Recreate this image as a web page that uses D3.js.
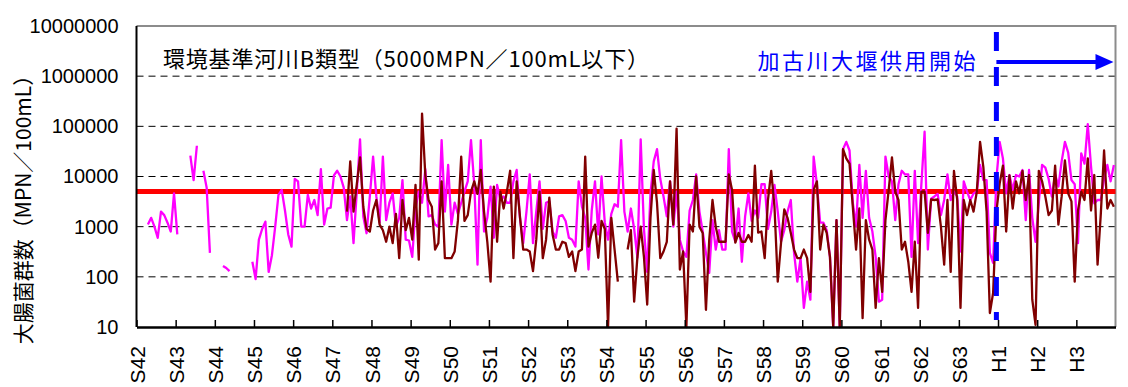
<!DOCTYPE html>
<html>
<head>
<meta charset="utf-8">
<script src="https://cdn.jsdelivr.net/npm/d3@7"></script>
<style>
body { margin: 0; background: #fff; }
</style>
</head>
<body>
<script>
//year labels (one per 12 months, S42 = 1967)
var yearLabels = ["S42","S43","S44","S45","S46","S47","S48","S49","S50","S51","S52","S53",
    "S54","S55","S56","S57","S58","S59","S60","S61","S62","S63","H1","H2","H3"];

//y axis ticks (log)
var yTicks = [10, 100, 1000, 10000, 100000, 1000000, 10000000];

//environmental standard (B class)
var standardValue = 5000;

//month index where the weir started operating
var weirStartMonth = 263.5;

//monthly values, magenta station (null = no data)
var stationA = [
    null,null,null,1100,1500,1000,600,2000,1700,1200,800,4600,
    700,null,null,null,26000,8500,41000,null,13000,6000,300,null,
    null,null,165,150,130,null,null,null,null,null,null,200,
    90,550,900,1260,125,270,1000,4300,5400,2100,700,400,
    9000,8000,1000,1000,4300,2300,3400,1700,14000,1100,2300,2400,
    10500,13000,10000,6000,1350,4000,470,5000,55000,1600,740,4000,
    25000,4000,1200,25000,1350,3000,4600,1000,1500,8500,550,530,
    250,2300,5000,3000,14000,1600,1700,1100,1000,53000,2000,17000,
    1100,3000,1800,3000,5000,8000,53000,7000,175,53000,800,1500,
    6300,600,6800,3500,4000,3000,3000,8000,13500,1500,470,2000,
    11000,470,2000,8000,900,3000,3200,800,600,1600,1700,1300,
    600,550,400,8000,2500,1500,140,2100,8000,700,10000,1200,
    550,1800,2800,2500,53000,2000,800,2300,900,240,55000,900,
    125,4600,20000,35000,9000,4000,1600,8000,1000,5000,550,320,
    250,2100,3400,11000,2000,800,300,120,1350,350,850,350,
    350,35000,800,500,2300,200,1600,4600,1300,2100,1500,7000,
    7000,900,2000,6800,2000,500,850,2000,3400,300,80,235,
    24,80,35,25000,7000,1200,1200,850,250,10,1350,10,
    35000,49000,33000,3000,1000,17000,1500,13000,1500,800,250,32,
    35,25000,10000,8000,1350,7000,13000,11000,11000,250,13000,470,
    6800,78000,350,3600,4000,4500,1700,3400,11000,3400,5000,4000,
    320,8000,5000,3400,4600,5000,17000,8500,8500,300,190,9000,
    49000,23000,4600,10700,5400,10700,10000,13500,1350,13500,1500,500,
    3000,17000,15000,9000,4000,11000,6300,20000,49000,30000,8500,7000,
    470,29000,18000,110000,16000,2900,3400,3400,9000,17000,8000,17000
];

//monthly values, dark red station (null = no data)
var stationB = [
    null,null,null,null,null,null,null,null,null,null,null,null,
    null,null,null,null,null,null,null,null,null,null,null,null,
    null,null,null,null,null,null,null,null,null,null,null,null,
    null,null,null,null,null,null,null,null,null,null,null,null,
    null,null,null,null,null,null,null,null,null,null,null,null,
    null,null,null,null,2000,20000,2000,7000,24000,2500,900,800,
    2100,3400,1100,850,500,1000,470,1800,235,3400,850,1500,
    550,6800,220,180000,10700,3400,2500,350,470,8000,235,235,
    235,320,1350,25000,1300,1700,5000,8000,4500,13500,2000,500,
    80,6300,500,5000,2300,5000,13000,235,8000,1600,350,350,
    320,130,550,5000,235,550,3800,700,350,350,500,470,
    250,320,130,320,350,25000,400,750,1100,240,1300,900,
    10,1500,350,80,null,null,350,850,32,250,1000,250,
    28,1500,13500,3000,235,320,500,8000,1100,90000,140,320,
    10,1100,800,10000,1000,750,22,540,3400,1000,500,500,
    500,11000,5400,480,750,500,500,680,500,16500,760,800,
    235,3400,13000,2500,80,470,2200,1500,750,350,235,235,
    350,235,50,5400,8000,350,1100,750,250,10,1350,10,
    35000,23000,18000,2500,350,2300,15,1350,550,350,24,235,
    50,1350,5400,24000,5000,3400,350,500,200,50,500,24,
    5000,5000,750,3500,3400,3500,1000,175,3400,125,13000,3400,
    24,3400,1700,3400,2000,5000,49000,15500,2000,19,48,2000,
    7200,16500,800,10500,2300,8000,4600,13000,3400,10700,35,11,
    13000,8000,4000,1700,2100,16500,1100,4000,21000,4600,3200,80,
    2100,5000,3400,23000,2100,10700,175,1800,33000,2300,3400,2500
];

window.onload = function(){

    //SVG dimensions
    var w = 1128,
        h = 387;

    //plot area
    var left = 136.5,
        right = 1115.5,
        top = 26,
        bottom = 327;

    var nMonths = yearLabels.length * 12;

    var svg = d3.select("body")
        .append("svg")
        .attr("width", w)
        .attr("height", h)
        .style("display", "block");

    //x scale: month index -> pixel
    var x = d3.scaleLinear()
        .domain([0, nMonths])
        .range([left, right]);

    //y scale (log)
    var y = d3.scaleLog()
        .domain([10, 10000000])
        .range([bottom, top]);

    //dashed grid lines
    svg.append("g")
        .selectAll("line")
        .data(yTicks.slice(1, -1))
        .enter()
        .append("line")
        .attr("x1", left)
        .attr("x2", right)
        .attr("y1", function(d){ return y(d); })
        .attr("y2", function(d){ return y(d); })
        .style("stroke", "#000")
        .style("stroke-width", 1)
        .style("stroke-dasharray", "7,5");

    //top and right border (gray)
    svg.append("path")
        .attr("d", "M" + left + "," + top + "H" + right + "V" + bottom)
        .style("fill", "none")
        .style("stroke", "#8c8c8c")
        .style("stroke-width", 2);

    //y axis labels
    var yAxis = d3.axisLeft(y)
        .tickValues(yTicks)
        .tickSize(0)
        .tickPadding(18)
        .tickFormat(d3.format("d"));

    var yAxisG = svg.append("g")
        .attr("transform", "translate(" + left + ",0)")
        .call(yAxis);
    yAxisG.select(".domain").remove();
    yAxisG.selectAll("text")
        .style("font-family", "'Liberation Sans', Arial, sans-serif")
        .style("font-size", "20px")
        .style("fill", "#000");

    //standard line
    svg.append("line")
        .attr("x1", left)
        .attr("x2", right)
        .attr("y1", y(standardValue))
        .attr("y2", y(standardValue))
        .style("stroke", "#ff0000")
        .style("stroke-width", 5);

    //line generator
    var line = d3.line()
        .defined(function(d){ return d != null; })
        .x(function(d, i){ return x(i + 0.5); })
        .y(function(d){ return y(d); });

    svg.append("path")
        .datum(stationA)
        .attr("d", line)
        .style("fill", "none")
        .style("stroke", "#ff00ff")
        .style("stroke-width", 2.3)
        .style("stroke-linejoin", "round");

    svg.append("path")
        .datum(stationB)
        .attr("d", line)
        .style("fill", "none")
        .style("stroke", "#800000")
        .style("stroke-width", 2.3)
        .style("stroke-linejoin", "round");

    //x axis with year ticks
    var xTickValues = yearLabels.map(function(d, i){ return i * 12; });
    var xAxis = d3.axisBottom(x)
        .tickValues(xTickValues)
        .tickSize(-7)
        .tickSizeOuter(0)
        .tickFormat(function(d){ return yearLabels[d / 12]; });

    var xAxisG = svg.append("g")
        .attr("transform", "translate(0," + bottom + ")")
        .call(xAxis);
    xAxisG.select(".domain")
        .style("stroke", "#000")
        .style("stroke-width", 2.5);
    xAxisG.selectAll(".tick line")
        .style("stroke", "#000")
        .style("stroke-width", 1.5);
    xAxisG.selectAll("text")
        .attr("transform", "rotate(-90)")
        .attr("x", -19)
        .attr("y", 0)
        .attr("dy", "0.36em")
        .style("text-anchor", "end")
        .style("font-family", "'Liberation Sans', Arial, sans-serif")
        .style("font-size", "21px")
        .style("fill", "#000");

    //left axis line
    svg.append("line")
        .attr("x1", left)
        .attr("x2", left)
        .attr("y1", top)
        .attr("y2", bottom)
        .style("stroke", "#000")
        .style("stroke-width", 2);

    //y axis title
    svg.append("text")
        .attr("transform", "translate(31," + ((top + bottom) / 2 + 28) + ") rotate(-90)")
        .attr("text-anchor", "middle")
        .style("font-family", "'Noto Sans CJK JP', sans-serif")
        .style("font-size", "21px")
        .style("fill", "#000")
        .text("大腸菌群数（MPN／100mL）");

    //standard label
    svg.append("text")
        .attr("x", 163)
        .attr("y", 67)
        .style("font-family", "'Noto Sans CJK JP', sans-serif")
        .style("font-size", "22px")
        .style("letter-spacing", "0.8px")
        .style("fill", "#000")
        .text("環境基準河川B類型（5000MPN／100mL以下）");

    //weir start marker
    var wx = x(weirStartMonth);
    svg.append("line")
        .attr("x1", wx)
        .attr("x2", wx)
        .attr("y1", 32)
        .attr("y2", 320)
        .style("stroke", "#0000ff")
        .style("stroke-width", 5)
        .style("stroke-dasharray", "19,16");

    svg.append("line")
        .attr("x1", wx)
        .attr("x2", right - 16)
        .attr("y1", 62)
        .attr("y2", 62)
        .style("stroke", "#0000ff")
        .style("stroke-width", 4);

    svg.append("path")
        .attr("d", "M" + (right - 20) + ",54L" + (right - 2) + ",62L" + (right - 20) + ",70Z")
        .style("fill", "#0000ff");

    svg.append("text")
        .attr("x", 978)
        .attr("y", 69)
        .attr("text-anchor", "end")
        .style("font-family", "'Noto Sans CJK JP', sans-serif")
        .style("font-size", "22px")
        .style("letter-spacing", "2.5px")
        .style("fill", "#0000ff")
        .text("加古川大堰供用開始");
};
</script>
</body>
</html>
